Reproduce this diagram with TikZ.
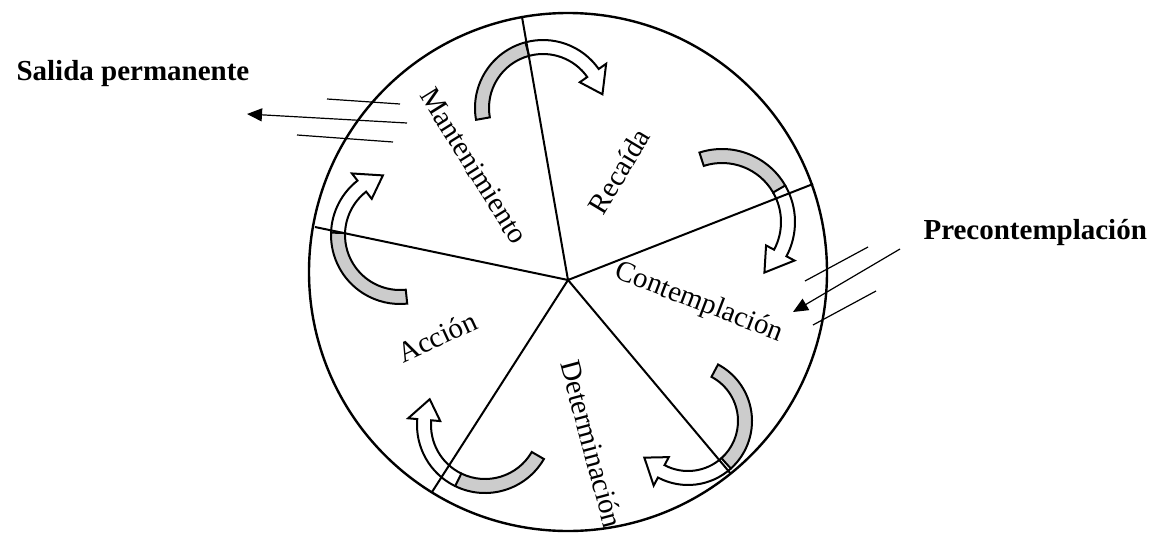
\documentclass[tikz,border=0pt]{standalone}
\usepackage{fontspec}
\setmainfont{Liberation Serif}
\usetikzlibrary{arrows.meta}

% curved cycle arrow: centre, radius, tail, grey end, head base, tip, half width
\newcommand{\cyclearrow}[7]{%
  \begin{scope}[shift={#1}]
    \draw[band, fill=bandgray] (#3:#2-#7) arc[start angle=#3, end angle=#4, radius=#2-#7]
      -- (#4:#2+#7) arc[start angle=#4, end angle=#3, radius=#2+#7] -- cycle;
    \draw[band] (#4:#2-#7) arc[start angle=#4, end angle=#5, radius=#2-#7]
      -- (#5:#2-2.3*#7) -- (#6:#2) -- (#5:#2+2.3*#7) -- (#5:#2+#7)
      arc[start angle=#5, end angle=#4, radius=#2+#7];
  \end{scope}}

\colorlet{bandgray}{gray!40}

\begin{document}
\begin{tikzpicture}[
    x=1pt, y=1pt,
    ring/.style={draw, line width=2.4pt},
    divider/.style={line width=2pt},
    band/.style={draw, line width=2pt, line join=miter},
    hatch/.style={line width=1.2pt},
    exitarrow/.style={-{Triangle[length=15pt,width=13pt]}, line width=1.2pt},
    stage/.style={font=\fontsize{29}{34}\selectfont},
    outside/.style={font=\fontsize{29}{34}\selectfont\bfseries, anchor=base west},
]
\useasboundingbox (0,0) rectangle (1151,-533);

% Cycle arrows
\cyclearrow{(543,-108)}{61}{-170}{-255}{-325}{-347}{7}
\cyclearrow{(722,-222)}{66}{-252}{-330}{-388}{-410}{7}
\cyclearrow{(688,-421)}{57}{-298}{-408}{-478}{-500}{7}
\cyclearrow{(485,-425)}{61}{-30}{-116}{-185}{-205}{7}
\cyclearrow{(400,-235)}{62}{-84}{-182}{-232}{-254}{7}

% Wheel
\coordinate (hub) at (568,-280);
\draw[ring] (568,-272) circle[radius=259];
\coordinate (d1) at (522,-17);
\coordinate (d2) at (813,-184);
\coordinate (d3) at (731,-474);
\coordinate (d4) at (432,-492);
\coordinate (d5) at (315,-227);
\foreach \d in {d1,d2,d3,d4,d5}
  \draw[divider] (hub) -- (\d);

% Stages
\node[stage, rotate=-58] (mant) at (474,-166) {Mantenimiento};
\node[stage, rotate=59] (reca) at (619,-171) {Recaída};
\node[stage, rotate=-21] (cont) at (699,-303) {Contemplación};
\node[stage, rotate=-75] (dete) at (592,-444) {Determinación};
\node[stage, rotate=25] (acci) at (437,-337) {Acción};

% Exits
\node[outside] (salida) at (13,-80) {Salida permanente};
\node[outside] (precon) at (920,-239) {Precontemplación};

\coordinate (sal1) at (407,-123);
\coordinate (sal0) at (247,-114);
\draw[exitarrow] (sal1) -- (sal0);
\draw[hatch] (327,-99) -- (400,-104);
\draw[hatch] (297,-135) -- (393,-142);

\coordinate (pre1) at (900,-249);
\coordinate (pre0) at (793,-312);
\draw[exitarrow] (pre1) -- (pre0);
\draw[hatch] (805,-281) -- (868,-247);
\draw[hatch] (813,-325) -- (876,-291);

\end{tikzpicture}
\end{document}
